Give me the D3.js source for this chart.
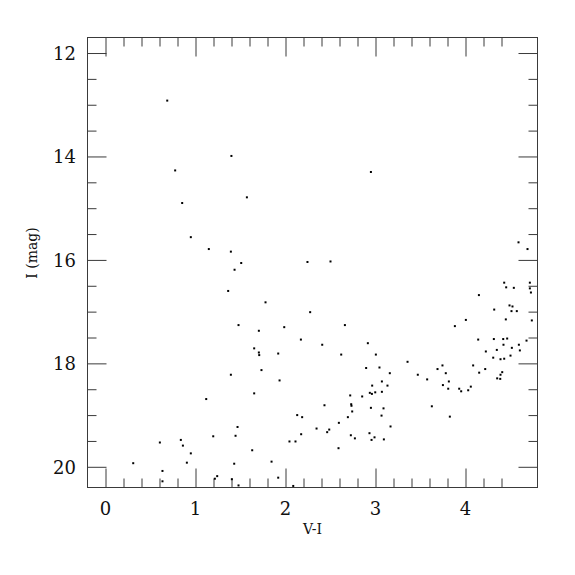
<!DOCTYPE html>
<html><head><meta charset="utf-8">
<script src="https://cdn.jsdelivr.net/npm/d3@7"></script>
<style>body{margin:0;background:#fff}</style>
</head><body>
<script>
const vi = [0.686,1.399,0.774,1.571,0.852,2.949,
0.948,1.148,1.393,1.508,1.434,1.363,1.778,1.478,1.704,1.652,1.704,1.708,1.919,
4.589,4.689,2.244,2.500,4.430,4.452,4.537,4.715,4.715,4.727,4.149,4.489,4.522,4.319,4.511,4.570,2.274,4.004,4.448,4.737,1.986,2.660,3.882,2.171,2.408,2.915,4.141,4.315,4.419,4.463,4.678,4.422,4.593,4.515,4.348,4.604,2.619,3.004,4.226,4.308,4.389,4.430,4.500,
1.733,1.393,1.934,1.652,1.119,1.467,1.197,1.445,0.604,0.837,0.860,1.630,0.948,0.308,0.904,1.430,1.845,0.633,0.633,1.241,1.215,1.404,1.478,1.919,
3.356,2.896,3.044,3.159,3.470,3.574,3.689,3.744,3.781,3.749,3.815,3.808,3.930,3.952,4.030,4.059,4.085,4.152,4.219,4.352,4.386,4.389,4.408,3.071,2.963,3.133,2.719,2.852,2.937,2.960,2.997,3.071,2.433,2.730,2.733,3.626,2.949,3.089,2.741,2.130,2.185,2.693,3.067,3.826,2.593,3.167,2.345,2.486,2.463,2.174,2.726,2.933,2.771,2.989,2.956,3.093,2.044,2.111,2.589,2.086];
const imag = [12.92,13.99,14.27,14.79,14.90,14.30,
15.56,15.79,15.84,16.06,16.19,16.60,16.82,17.26,17.37,17.71,17.79,17.84,17.81,
15.66,15.79,16.04,16.03,16.44,16.53,16.54,16.44,16.55,16.63,16.68,16.88,16.90,16.96,16.99,16.99,17.01,17.16,17.15,17.17,17.30,17.26,17.28,17.54,17.64,17.61,17.54,17.53,17.53,17.52,17.56,17.64,17.64,17.70,17.74,17.75,17.83,17.83,17.77,17.89,17.92,17.91,17.85,
18.13,18.22,18.33,18.58,18.69,19.23,19.41,19.40,19.53,19.48,19.59,19.68,19.74,19.93,19.92,19.94,19.90,20.08,20.28,20.18,20.23,20.24,20.36,20.21,
17.97,18.09,18.08,18.19,18.22,18.31,18.11,18.04,18.19,18.42,18.35,18.49,18.49,18.54,18.52,18.45,18.04,18.18,18.11,18.29,18.30,18.22,18.17,18.35,18.43,18.43,18.62,18.64,18.57,18.59,18.56,18.55,18.81,18.79,18.82,18.83,18.86,18.87,18.93,19.00,19.04,19.04,19.01,19.03,19.15,19.22,19.26,19.28,19.33,19.37,19.39,19.35,19.45,19.43,19.48,19.47,19.51,19.51,19.64,20.37];
const xTickLabels = [0,1,2,3,4];
const yTickLabels = [12,14,16,18,20];
const xLabel = "V-I", yLabel = "I (mag)";

const W = 575, H = 575;
const L = 87.5, R = 537.5, T = 37.5, B = 487.5;
const svg = d3.select("body").append("svg").attr("width", W).attr("height", H);
const x = d3.scaleLinear().domain([-0.2, 4.8]).range([L, R]);
const y = d3.scaleLinear().domain([11.7, 20.4]).range([T, B]);
const col = "#3a3a3a";
const font = "DejaVu Serif";

const xMinor = d3.range(0, 24).map(i => -0.2 + i * 0.2).filter(v => v > -0.15 && v < 4.75);
const yMinor = d3.range(0, 18).map(i => 12 + i * 0.5).filter(v => v < 20.35);

function tickLen(v) { return Math.abs(v - Math.round(v)) < 1e-6 ? 19 : 9; }
function yLen(v) { return Math.abs(v/2 - Math.round(v/2)) < 1e-6 ? 19 : 9; }

const gBottom = svg.append("g").attr("transform", `translate(0,${B})`)
  .call(d3.axisBottom(x).tickValues(xMinor).tickSize(0).tickFormat(""));
gBottom.selectAll(".tick").append("line").attr("y2", d => -tickLen(d));
const gTop = svg.append("g").attr("transform", `translate(0,${T})`)
  .call(d3.axisTop(x).tickValues(xMinor).tickSize(0).tickFormat(""));
gTop.selectAll(".tick").append("line").attr("y2", d => tickLen(d));
const gLeft = svg.append("g").attr("transform", `translate(${L},0)`)
  .call(d3.axisLeft(y).tickValues(yMinor).tickSize(0).tickFormat(""));
gLeft.selectAll(".tick").append("line").attr("x2", d => yLen(d));
const gRight = svg.append("g").attr("transform", `translate(${R},0)`)
  .call(d3.axisRight(y).tickValues(yMinor).tickSize(0).tickFormat(""));
gRight.selectAll(".tick").append("line").attr("x2", d => -yLen(d));
svg.selectAll(".domain").remove();
svg.selectAll(".tick line").attr("stroke", col).attr("stroke-width", 1);

svg.append("rect").attr("x", L).attr("y", T).attr("width", R - L).attr("height", B - T)
  .attr("fill", "none").attr("stroke", col).attr("stroke-width", 1);

svg.append("g").selectAll("text").data(xTickLabels).join("text")
  .attr("x", d => x(d)).attr("y", 515).attr("text-anchor", "middle")
  .attr("font-family", font).attr("font-size", 18).attr("fill", "#111").text(d => d);
svg.append("g").selectAll("text").data(yTickLabels).join("text")
  .attr("x", 76).attr("y", d => y(d) + 7).attr("text-anchor", "end")
  .attr("font-family", font).attr("font-size", 18).attr("fill", "#111").text(d => d);

svg.append("text").attr("x", (L + R) / 2).attr("y", 534).attr("text-anchor", "middle")
  .attr("font-family", font).attr("font-size", 14).attr("fill", "#111").text(xLabel);
svg.append("text").attr("transform", `translate(37,253) rotate(-90)`).attr("text-anchor", "middle")
  .attr("font-family", font).attr("font-size", 14).attr("fill", "#111").text(yLabel);

svg.append("g").selectAll("rect").data(vi.map((v, i) => [v, imag[i]])).join("rect")
  .attr("x", d => x(d[0]) - 1).attr("y", d => y(d[1]) - 1)
  .attr("width", 2).attr("height", 2).attr("fill", "#000");
</script>
</body></html>
